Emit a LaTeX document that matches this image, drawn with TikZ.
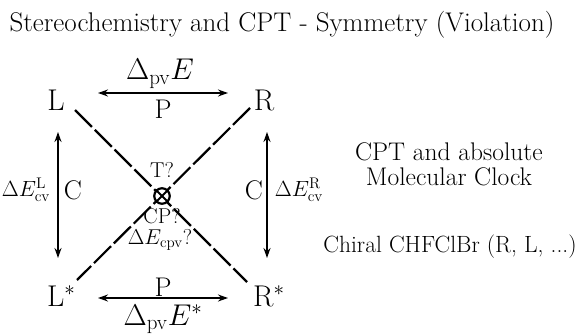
\RequirePackage{fix-cm}
\documentclass[tikz,border=0pt]{standalone}
\usetikzlibrary{arrows.meta}
\begin{document}
\begin{tikzpicture}[x=1pt,y=-1pt,
  big/.style={font=\fontsize{30}{34}\selectfont, inner sep=0pt},
  mid/.style={font=\fontsize{27}{31}\selectfont, inner sep=0pt},
  side/.style={font=\fontsize{22}{26}\selectfont, inner sep=0pt},
  small/.style={font=\fontsize{21.5}{25}\selectfont, inner sep=0pt, anchor=base},
  txt/.style={font=\fontsize{25.5}{29}\selectfont, inner sep=0pt},
  dbl/.style={{Stealth[length=10pt,width=7pt]}-{Stealth[length=10pt,width=7pt]}, line width=1.6pt},
  dash line/.style={line width=2.2pt, dash pattern=on 24pt off 4pt},
]
\useasboundingbox (0,0) rectangle (581,334);
\node[font=\fontsize{27}{31}\selectfont, inner sep=0pt] (title) at (282,25) {Stereochemistry and CPT - Symmetry (Violation)};
\node[big] (L) at (56,100) {L};
\node[big] (R) at (264,100) {R};
\node[big,anchor=base west] (Ls) at (47,306) {L$^*$};
\node[big,anchor=base west] (Rs) at (253,306) {R$^*$};
\coordinate (tl) at (98,93);
\coordinate (tr) at (228,93);
\coordinate (bl) at (98,298);
\coordinate (br) at (228,298);
\coordinate (lt) at (58,132);
\coordinate (lb) at (58,258);
\coordinate (rt) at (267,132);
\coordinate (rb) at (267,258);
\draw[dbl] (tl) -- (tr);
\draw[dbl] (bl) -- (br);
\draw[dbl] (lt) -- (lb);
\draw[dbl] (rt) -- (rb);
\node[big] (dpv) at (160,74) {$\Delta_{\rm pv}E$};
\node[mid] (Pt) at (163,109) {P};
\node[mid] (Pb) at (163,287) {P};
\node[big] (dpvs) at (163,319) {$\Delta_{\rm pv}E^*$};
\node[mid] (Cl) at (73,190) {C};
\node[mid] (Cr) at (254,190) {C};
\node[side] (dl) at (26,190) {$\Delta E^{\rm L}_{\rm cv}$};
\node[side] (dr) at (299,190) {$\Delta E^{\rm R}_{\rm cv}$};
\coordinate (c1a) at (75,110);
\coordinate (c1b) at (247,282);
\coordinate (c2a) at (250,108);
\coordinate (c2b) at (77,280);
\draw[dash line] (c1a) -- (c1b);
\draw[dash line] (c2a) -- (c2b);
\node[circle, draw, line width=2.2pt, minimum size=15.5pt, inner sep=0pt, fill=white] (X) at (162,196) {};
\draw[line width=2pt] (X.north west) -- (X.south east) (X.north east) -- (X.south west);
\node[small] (T) at (162,178) {T?};
\node[small] (CP) at (162,223) {CP?};
\node[small] (dcpv) at (160,244) {$\Delta E_{\rm cpv}$?};
\node[txt] (cpt1) at (449,152) {CPT and absolute};
\node[txt] (cpt2) at (449,177) {Molecular Clock};
\node[font=\fontsize{23.5}{27}\selectfont, inner sep=0pt] (chiral) at (450,247) {Chiral CHFClBr (R, L, ...)};
\end{tikzpicture}
\end{document}
